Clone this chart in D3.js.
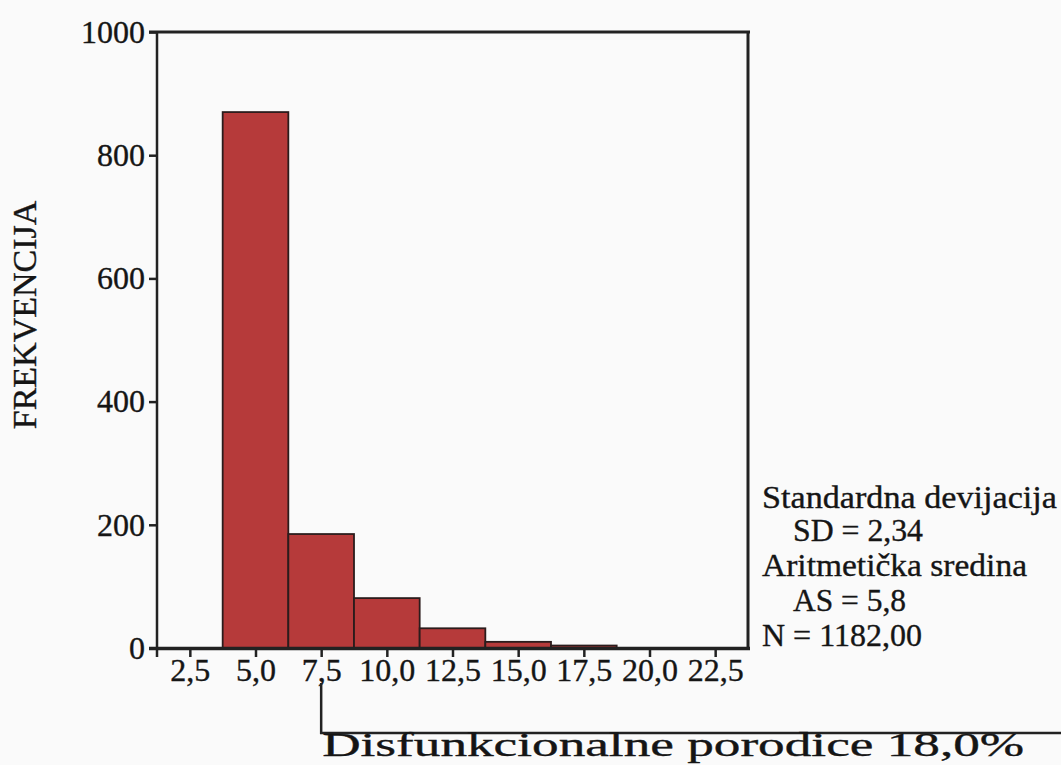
<!DOCTYPE html>
<html>
<head>
<meta charset="utf-8">
<script src="https://cdn.jsdelivr.net/npm/d3@7"></script>
<style>
  html, body { margin: 0; padding: 0; background: #fafafa; }
  svg { display: block; }
  text { font-family: "Liberation Serif", "DejaVu Serif", serif; fill: #151515; stroke: #151515; stroke-width: 0.35px; }
</style>
</head>
<body>
<svg id="chart" width="1061" height="765"></svg>
<script>
// ---- data ----
const binCenters = [5.0, 7.5, 10.0, 12.5, 15.0, 17.5];
const frequencies = [870, 185, 81, 32, 10, 4];
const binWidth = 2.5;
const xTicks = [2.5, 5.0, 7.5, 10.0, 12.5, 15.0, 17.5, 20.0, 22.5];
const yTicks = [0, 200, 400, 600, 800, 1000];
const yTitle = "FREKVENCIJA";
const statsLines = ["Standardna devijacija", "SD = 2,34", "Aritmetička sredina", "AS = 5,8", "N = 1182,00"];
const bracketLabel = "Disfunkcionalne porodice 18,0%";
const bracketStart = 7.5;

// ---- layout ----
const svg = d3.select("#chart");
const pL = 157, pR = 748, pT = 32, pB = 648;
const x = d3.scaleLinear().domain([1.25, 23.75]).range([pL, pR]);
const y = d3.scaleLinear().domain([0, 1000]).range([pB, pT]);
const fmt = d => d.toFixed(1).replace(".", ",");
const FONT = "Liberation Serif";

// bars
svg.append("g").selectAll("rect")
  .data(binCenters.map((c, i) => ({c, f: frequencies[i]})))
  .join("rect")
  .attr("x", d => x(d.c - binWidth / 2))
  .attr("width", d => x(d.c + binWidth / 2) - x(d.c - binWidth / 2))
  .attr("y", d => y(d.f))
  .attr("height", d => y(0) - y(d.f))
  .attr("fill", "#b63a3a")
  .attr("stroke", "#2b1c1c")
  .attr("stroke-width", 1.8);

// y axis
const yAxis = svg.append("g")
  .attr("transform", `translate(${pL},0)`)
  .call(d3.axisLeft(y).tickValues(yTicks).tickSize(8).tickPadding(4).tickFormat(d3.format("d")));
yAxis.select(".domain").remove();
yAxis.selectAll(".tick line").attr("stroke", "#222").attr("stroke-width", 2.5);
yAxis.selectAll(".tick text").attr("font-size", 32).attr("font-family", FONT).attr("fill", "#151515");

// x axis
const xAxis = svg.append("g")
  .attr("transform", `translate(0,${pB})`)
  .call(d3.axisBottom(x).tickValues(xTicks).tickSize(9).tickPadding(1).tickFormat(fmt));
xAxis.select(".domain").remove();
xAxis.selectAll(".tick line").attr("stroke", "#222").attr("stroke-width", 2.5);
xAxis.selectAll(".tick text").attr("font-size", 32).attr("font-family", FONT).attr("fill", "#151515");

// frame lines
const frame = svg.append("g").attr("stroke", "#222").attr("fill", "none");
frame.append("line").attr("x1", pL).attr("x2", pL).attr("y1", pT - 1).attr("y2", pB + 9).attr("stroke-width", 2.5);
frame.append("line").attr("x1", pL - 8).attr("x2", pR + 2).attr("y1", pT).attr("y2", pT).attr("stroke-width", 3);
frame.append("line").attr("x1", pR).attr("x2", pR).attr("y1", pT).attr("y2", pB + 2).attr("stroke-width", 3);
frame.append("line").attr("x1", pL - 8).attr("x2", pR + 2).attr("y1", pB + 0.5).attr("y2", pB + 0.5).attr("stroke-width", 3.5);

// y title
svg.append("text")
  .attr("transform", "translate(36,315) rotate(-90)")
  .attr("text-anchor", "middle")
  .attr("font-size", 34)
  .text(yTitle);

// stats
const statsX = [762, 793, 762, 793, 762];
const statsY = [508, 541, 576, 611, 646];
svg.append("g").selectAll("text")
  .data(statsLines)
  .join("text")
  .attr("x", (d, i) => statsX[i])
  .attr("y", (d, i) => statsY[i])
  .attr("font-size", 31)
  .attr("textLength", (d, i) => [295, 130, 265, 113, 160][i])
  .attr("lengthAdjust", "spacingAndGlyphs")
  .text(d => d);

// bracket
const bx = x(bracketStart);
svg.append("path")
  .attr("d", `M${bx},683 V733 H1061`)
  .attr("fill", "none").attr("stroke", "#222").attr("stroke-width", 2.5);
svg.append("text")
  .attr("x", bx + 1).attr("y", 756)
  .attr("font-size", 33)
  .attr("textLength", 702).attr("lengthAdjust", "spacingAndGlyphs")
  .text(bracketLabel);
</script>
</body>
</html>
